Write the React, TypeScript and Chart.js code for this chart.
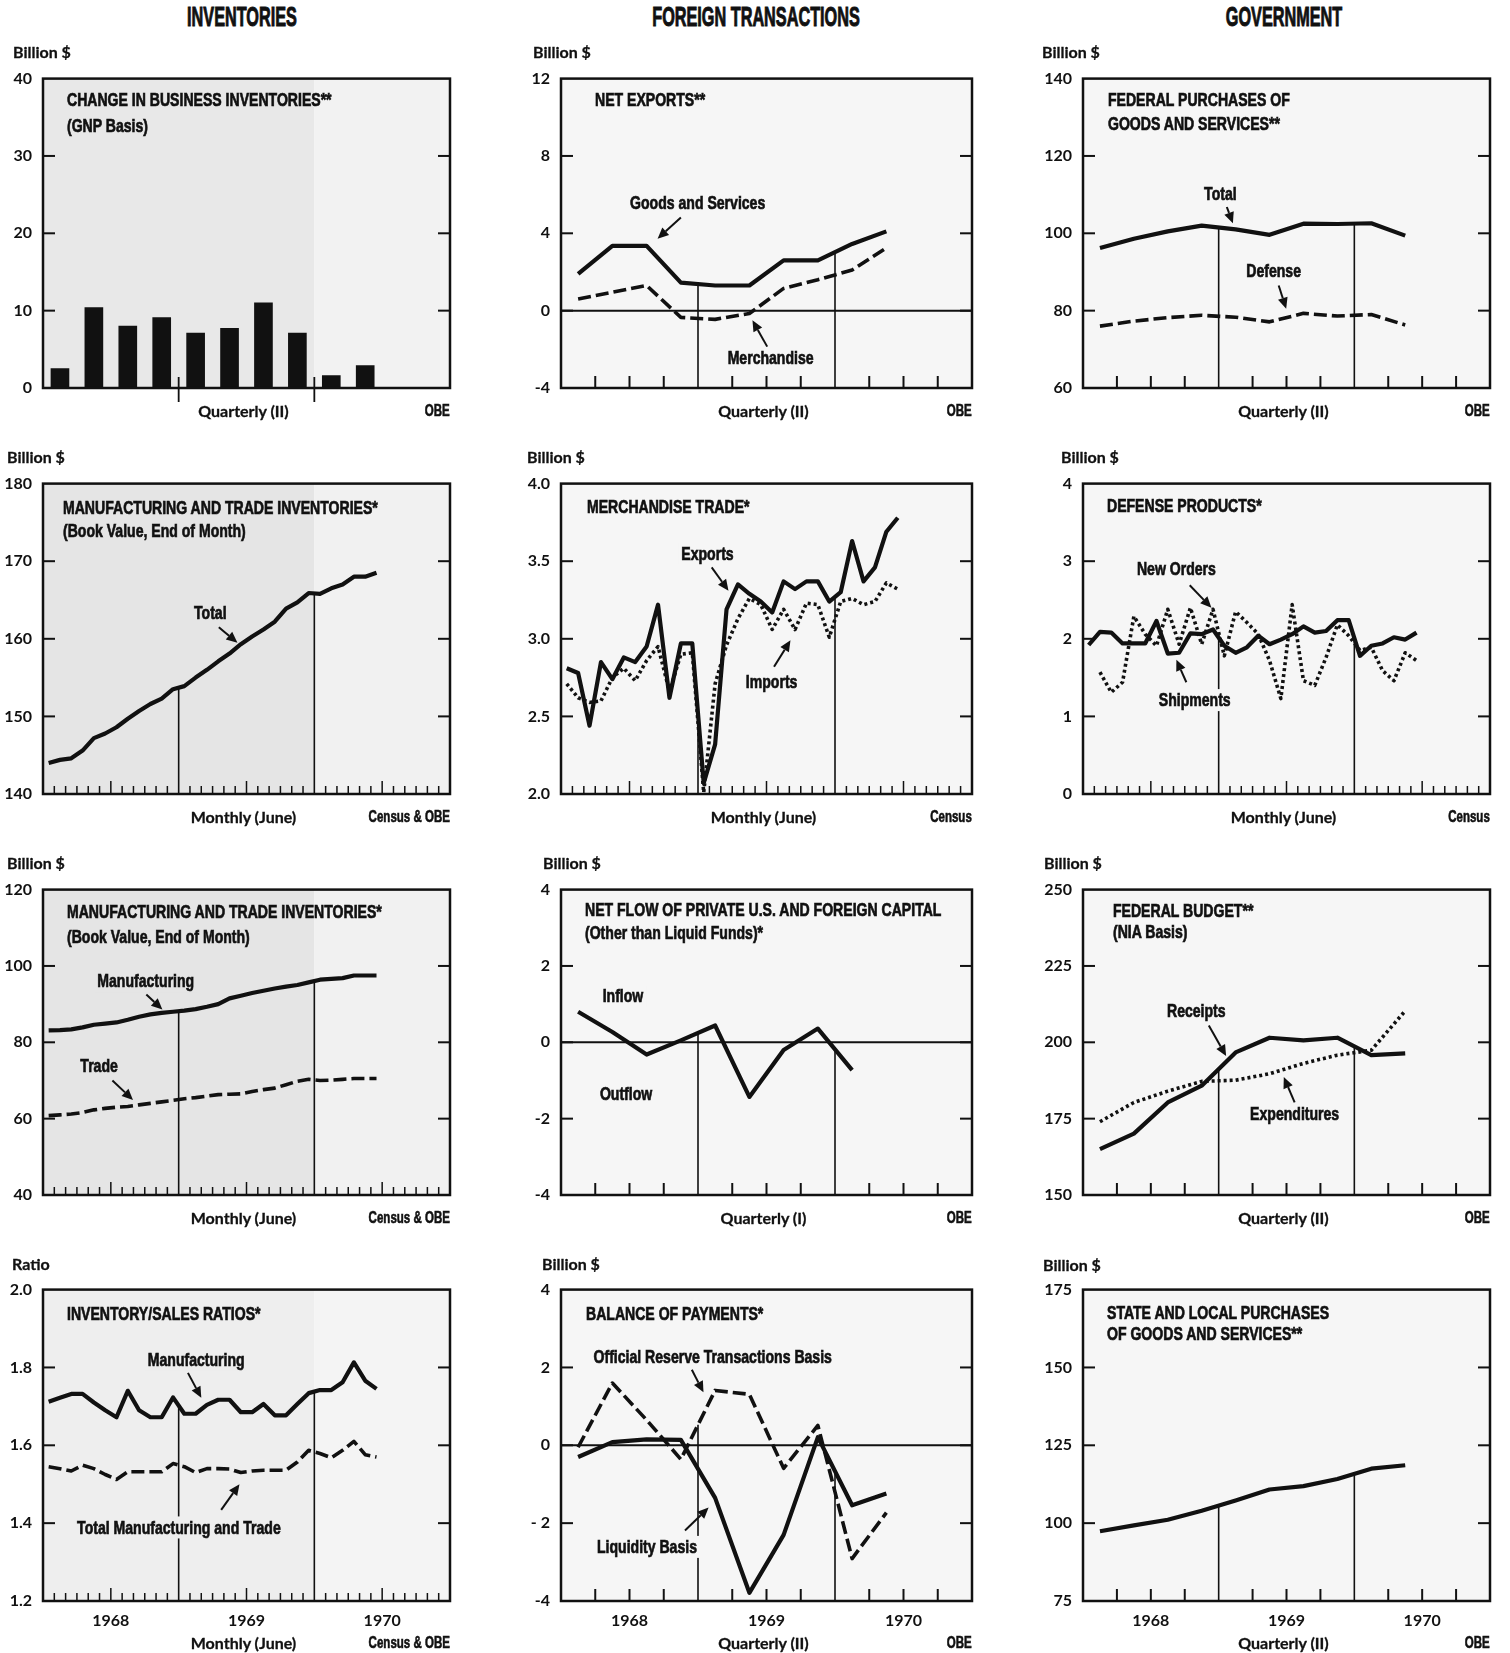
import React, { useEffect, useRef } from "react";
import { Chart, registerables } from "chart.js";

Chart.register(...registerables);

// ---------------- categories ----------------
const YEARS = ["1968", "1969", "1970"];
const QUARTERS = YEARS.flatMap((y) => ["I", "II", "III", "IV"].map((q) => `${y} ${q}`));
const MONTHS = YEARS.flatMap((y) =>
  ["Jan", "Feb", "Mar", "Apr", "May", "Jun", "Jul", "Aug", "Sep", "Oct", "Nov", "Dec"].map((m) => `${m} ${y}`)
);

// ---------------- data (quarterly: 1968 I .. 1970 II, monthly: Jan 1968 .. Jun 1970) ----------------
const INV_CHANGE = [2.5, 10.4, 8.0, 9.1, 7.1, 7.7, 11.0, 7.1, 1.6, 2.9];

const NX_GOODS_SERVICES = [1.9, 3.35, 3.35, 1.45, 1.3, 1.3, 2.6, 2.6, 3.45, 4.1];
const NX_MERCHANDISE = [0.6, 0.95, 1.3, -0.35, -0.45, -0.15, 1.15, 1.6, 2.1, 3.25];

const FED_TOTAL = [96.2, 98.6, 100.5, 102.0, 101.0, 99.6, 102.5, 102.4, 102.6, 99.4];
const FED_DEFENSE = [76.0, 77.3, 78.2, 78.8, 78.3, 77.1, 79.3, 78.6, 79.0, 76.3];

const MT_TOTAL = [
  144.0, 144.4, 144.6, 145.6, 147.2, 147.8, 148.6, 149.7, 150.7, 151.6, 152.3, 153.5, 153.9, 155.0, 156.0,
  157.1, 158.1, 159.3, 160.3, 161.2, 162.2, 163.9, 164.7, 165.9, 165.8, 166.5, 167.0, 168.0, 168.0, 168.5,
];

const EXPORTS = [
  2.81, 2.78, 2.44, 2.85, 2.74, 2.88, 2.85, 2.95, 3.22, 2.62, 2.97, 2.97, 2.07, 2.32, 3.19, 3.35, 3.29, 3.24,
  3.17, 3.37, 3.32, 3.37, 3.37, 3.24, 3.3, 3.63, 3.37, 3.46, 3.69, 3.78,
];
const IMPORTS = [
  2.71, 2.62, 2.59, 2.6, 2.75, 2.81, 2.73, 2.86, 2.95, 2.66, 2.9, 2.91, 2.01, 2.71, 2.96, 3.13, 3.26, 3.22,
  3.06, 3.19, 3.06, 3.23, 3.22, 3.01, 3.24, 3.26, 3.22, 3.24, 3.36, 3.32,
];

const DEF_SHIPMENTS = [
  1.92, 2.09, 2.08, 1.94, 1.94, 1.94, 2.23, 1.81, 1.82, 2.07, 2.06, 2.12, 1.91, 1.82, 1.89, 2.04, 1.93, 1.99,
  2.06, 2.16, 2.08, 2.1, 2.24, 2.24, 1.78, 1.91, 1.94, 2.02, 1.99, 2.08,
];
const DEF_NEW_ORDERS = [
  null, 1.57, 1.31, 1.44, 2.29, 2.06, 1.91, 2.38, 1.93, 2.4, 1.93, 2.38, 1.78, 2.35, 2.21, 2.06, 1.72, 1.23,
  2.44, 1.46, 1.4, 1.76, 2.18, 2.04, 1.85, 1.89, 1.59, 1.46, 1.82, 1.72,
];

const MT_MFG = [
  83.1, 83.2, 83.4, 83.9, 84.6, 84.9, 85.2, 85.9, 86.7, 87.3, 87.7, 88.0, 88.3, 88.7, 89.3, 90.0, 91.5, 92.2,
  92.9, 93.5, 94.1, 94.6, 95.0, 95.7, 96.4, 96.6, 96.8, 97.5, 97.5, 97.5,
];
const MT_TRADE = [
  60.8, 61.0, 61.2, 61.6, 62.3, 62.7, 63.0, 63.2, 63.6, 64.0, 64.4, 64.8, 65.2, 65.5, 65.9, 66.3, 66.4, 66.5,
  67.1, 67.6, 68.0, 68.9, 69.8, 70.3, 70.0, 70.1, 70.3, 70.5, 70.5, 70.5,
];

const CAPITAL_FLOW = [0.8, 0.27, -0.32, 0.05, 0.44, -1.43, -0.2, 0.36, -0.73];

const FB_RECEIPTS = [165.0, 170.1, 180.3, 185.8, 196.7, 201.5, 200.6, 201.5, 195.8, 196.4];
const FB_EXPENDITURES = [174.0, 180.3, 184.0, 187.2, 187.6, 189.7, 193.1, 195.8, 197.4, 210.3];

const RATIO_MFG = [
  1.712, 1.722, 1.732, 1.732, 1.71, 1.69, 1.672, 1.74, 1.69, 1.672, 1.672, 1.723, 1.681, 1.681, 1.704, 1.717,
  1.717, 1.685, 1.685, 1.706, 1.677, 1.677, 1.706, 1.734, 1.742, 1.742, 1.762, 1.813, 1.766, 1.745,
];
const RATIO_TOTAL = [
  1.545, 1.54, 1.534, 1.549, 1.54, 1.525, 1.512, 1.532, 1.532, 1.532, 1.532, 1.553, 1.545, 1.53, 1.54, 1.54,
  1.539, 1.53, 1.534, 1.536, 1.536, 1.536, 1.557, 1.587, 1.579, 1.568, 1.587, 1.61, 1.576, 1.57,
];

const BOP_LIQUIDITY = [-0.3, 0.08, 0.15, 0.14, -1.35, -3.79, -2.3, 0.21, -1.54, -1.24];
const BOP_OFFICIAL = [-0.05, 1.6, 0.65, -0.36, 1.41, 1.31, -0.59, 0.51, -2.91, -1.73];

const SL_PURCHASES = [97.4, 99.3, 101.1, 104.0, 107.3, 110.8, 111.9, 114.2, 117.5, 118.6];

// ---------------- tick labels ----------------
const Y_INV_CHANGE = ["0", "10", "20", "30", "40"];
const Y_NET_EXPORTS = ["-4", "0", "4", "8", "12"];
const Y_FED_PURCH = ["60", "80", "100", "120", "140"];
const Y_MT_TOTAL = ["140", "150", "160", "170", "180"];
const Y_MERCH = ["2.0", "2.5", "3.0", "3.5", "4.0"];
const Y_DEFENSE = ["0", "1", "2", "3", "4"];
const Y_MT_PARTS = ["40", "60", "80", "100", "120"];
const Y_CAPITAL = ["-4", "-2", "0", "2", "4"];
const Y_BUDGET = ["150", "175", "200", "225", "250"];
const Y_RATIO = ["1.2", "1.4", "1.6", "1.8", "2.0"];
const Y_BOP = ["-4", "- 2", "0", "2", "4"];
const Y_STATE_LOCAL = ["75", "100", "125", "150", "175"];

const HEADERS = ["INVENTORIES", "FOREIGN TRANSACTIONS", "GOVERNMENT"];

// ---------------- layout ----------------
const PAGE_W = 1510;
const PAGE_H = 1653;
const COL_X = [43, 561, 1083];
const COL_W = [407, 411, 407];
const ROW_Y = [72, 477, 883, 1283];
const ROW_H = [316, 317, 312, 318];
const HEADER_X = [242, 756, 1284];
const Y_AXIS_W = 50;
const PAD_T = 14;
const PAD_R = 10;
const X_AXIS_H = 32;

const INK = "#111";
const COND = '"Liberation Sans", Arial, sans-serif';
const GEO = 'Lato, "Open Sans", "DejaVu Sans", sans-serif';
const SX = 0.74;
const LABEL_FONT = `bold 19px ${COND}`;

type Style = "solid" | "dashed" | "dotted" | "bar";
type Series = { name: string; data: (number | null)[]; style: Style };
type Ann = { text: string; x: number; y: number; arrow?: [number, number, number, number] };
type Panel = {
  col: number;
  row: number;
  unit: string;
  unitDx: number;
  unitDy: number;
  title: string[];
  titleDx: number;
  titleDy: number[];
  freq: "Q" | "M";
  caption: string;
  source: string;
  yMin: number;
  yMax: number;
  yStep: number;
  yLabels: string[];
  series: Series[];
  zero?: boolean;
  shade: [number, number, string][];
  anns: Ann[];
};

const LIGHT = "#f6f6f6";

const PANELS: Panel[] = [
  {
    col: 0, row: 0, unit: "Billion $", unitDx: -30, unitDy: -20,
    title: ["CHANGE IN BUSINESS INVENTORIES**", "(GNP Basis)"], titleDx: 24, titleDy: [28, 54],
    freq: "Q", caption: "Quarterly (II)", source: "OBE",
    yMin: 0, yMax: 40, yStep: 10, yLabels: Y_INV_CHANGE,
    series: [{ name: "Change in business inventories", data: INV_CHANGE, style: "bar" }],
    shade: [[0, 8, "#e8e8e8"], [8, 12, "#f2f2f2"]],
    anns: [],
  },
  {
    col: 1, row: 0, unit: "Billion $", unitDx: -28, unitDy: -20,
    title: ["NET EXPORTS**"], titleDx: 34, titleDy: [28],
    freq: "Q", caption: "Quarterly (II)", source: "OBE",
    yMin: -4, yMax: 12, yStep: 4, yLabels: Y_NET_EXPORTS,
    series: [
      { name: "Goods and Services", data: NX_GOODS_SERVICES, style: "solid" },
      { name: "Merchandise", data: NX_MERCHANDISE, style: "dashed" },
    ],
    zero: true,
    shade: [[0, 12, LIGHT]],
    anns: [
      { text: "Goods and Services", x: 3.99, y: 5.58, arrow: [3.5, 4.82, 2.82, 3.72] },
      { text: "Merchandise", x: 6.12, y: -2.45, arrow: [6.02, -1.86, 5.59, -0.5] },
    ],
  },
  {
    col: 2, row: 0, unit: "Billion $", unitDx: -41, unitDy: -20,
    title: ["FEDERAL PURCHASES OF", "GOODS AND SERVICES**"], titleDx: 25, titleDy: [28, 52],
    freq: "Q", caption: "Quarterly (II)", source: "OBE",
    yMin: 60, yMax: 140, yStep: 20, yLabels: Y_FED_PURCH,
    series: [
      { name: "Total", data: FED_TOTAL, style: "solid" },
      { name: "Defense", data: FED_DEFENSE, style: "dashed" },
    ],
    shade: [[0, 12, LIGHT]],
    anns: [
      { text: "Total", x: 4.05, y: 110.3, arrow: [4.24, 106.8, 4.42, 102.6] },
      { text: "Defense", x: 5.62, y: 90.2, arrow: [5.77, 86.5, 5.99, 80.5] },
    ],
  },
  {
    col: 0, row: 1, unit: "Billion $", unitDx: -36, unitDy: -20,
    title: ["MANUFACTURING AND TRADE INVENTORIES*", "(Book Value, End of Month)"], titleDx: 20, titleDy: [31, 54],
    freq: "M", caption: "Monthly (June)", source: "Census & OBE",
    yMin: 140, yMax: 180, yStep: 10, yLabels: Y_MT_TOTAL,
    series: [{ name: "Total", data: MT_TOTAL, style: "solid" }],
    shade: [[0, 24, "#e5e5e5"], [24, 36, "#f1f1f1"]],
    anns: [{ text: "Total", x: 14.8, y: 163.4, arrow: [15.55, 161.5, 17.2, 159.5] }],
  },
  {
    col: 1, row: 1, unit: "Billion $", unitDx: -34, unitDy: -20,
    title: ["MERCHANDISE TRADE*"], titleDx: 26, titleDy: [30],
    freq: "M", caption: "Monthly (June)", source: "Census",
    yMin: 2, yMax: 4, yStep: 0.5, yLabels: Y_MERCH,
    series: [
      { name: "Exports", data: EXPORTS, style: "solid" },
      { name: "Imports", data: IMPORTS, style: "dotted" },
    ],
    shade: [[0, 36, LIGHT]],
    anns: [
      { text: "Exports", x: 12.83, y: 3.55, arrow: [13.2, 3.46, 14.67, 3.31] },
      { text: "Imports", x: 18.45, y: 2.72, arrow: [18.66, 2.82, 20.1, 2.99] },
    ],
  },
  {
    col: 2, row: 1, unit: "Billion $", unitDx: -22, unitDy: -20,
    title: ["DEFENSE PRODUCTS*"], titleDx: 24, titleDy: [29],
    freq: "M", caption: "Monthly (June)", source: "Census",
    yMin: 0, yMax: 4, yStep: 1, yLabels: Y_DEFENSE,
    series: [
      { name: "Shipments", data: DEF_SHIPMENTS, style: "solid" },
      { name: "New Orders", data: DEF_NEW_ORDERS, style: "dotted" },
    ],
    shade: [[0, 36, LIGHT]],
    anns: [
      { text: "New Orders", x: 8.26, y: 2.9, arrow: [9.44, 2.69, 11.36, 2.4] },
      { text: "Shipments", x: 9.88, y: 1.21, arrow: [9.14, 1.44, 8.26, 1.73] },
    ],
  },
  {
    col: 0, row: 2, unit: "Billion $", unitDx: -36, unitDy: -20,
    title: ["MANUFACTURING AND TRADE INVENTORIES*", "(Book Value, End of Month)"], titleDx: 24, titleDy: [29, 54],
    freq: "M", caption: "Monthly (June)", source: "Census & OBE",
    yMin: 40, yMax: 120, yStep: 20, yLabels: Y_MT_PARTS,
    series: [
      { name: "Manufacturing", data: MT_MFG, style: "solid" },
      { name: "Trade", data: MT_TRADE, style: "dashed" },
    ],
    shade: [[0, 24, "#e5e5e5"], [24, 36, "#f1f1f1"]],
    anns: [
      { text: "Manufacturing", x: 9.09, y: 96.0, arrow: [9.14, 92.5, 10.56, 88.6] },
      { text: "Trade", x: 4.96, y: 73.8, arrow: [6.14, 70.0, 7.96, 64.9] },
    ],
  },
  {
    col: 1, row: 2, unit: "Billion $", unitDx: -18, unitDy: -20,
    title: ["NET FLOW OF PRIVATE U.S. AND FOREIGN CAPITAL", "(Other than Liquid Funds)*"], titleDx: 24, titleDy: [27, 50],
    freq: "Q", caption: "Quarterly (I)", source: "OBE",
    yMin: -4, yMax: 4, yStep: 2, yLabels: Y_CAPITAL,
    series: [{ name: "Net flow", data: CAPITAL_FLOW, style: "solid" }],
    zero: true,
    shade: [[0, 12, LIGHT]],
    anns: [
      { text: "Inflow", x: 1.81, y: 1.21 },
      { text: "Outflow", x: 1.9, y: -1.36 },
    ],
  },
  {
    col: 2, row: 2, unit: "Billion $", unitDx: -39, unitDy: -20,
    title: ["FEDERAL BUDGET**", "(NIA Basis)"], titleDx: 30, titleDy: [28, 49],
    freq: "Q", caption: "Quarterly (II)", source: "OBE",
    yMin: 150, yMax: 250, yStep: 25, yLabels: Y_BUDGET,
    series: [
      { name: "Receipts", data: FB_RECEIPTS, style: "solid" },
      { name: "Expenditures", data: FB_EXPENDITURES, style: "dotted" },
    ],
    shade: [[0, 12, LIGHT]],
    anns: [
      { text: "Receipts", x: 3.34, y: 210.3, arrow: [3.71, 205.5, 4.22, 195.5] },
      { text: "Expenditures", x: 6.24, y: 176.5, arrow: [6.24, 180.3, 5.92, 188.6] },
    ],
  },
  {
    col: 0, row: 3, unit: "Ratio", unitDx: -31, unitDy: -19,
    title: ["INVENTORY/SALES RATIOS*"], titleDx: 24, titleDy: [31],
    freq: "M", caption: "Monthly (June)", source: "Census & OBE",
    yMin: 1.2, yMax: 2.0, yStep: 0.2, yLabels: Y_RATIO,
    series: [
      { name: "Manufacturing", data: RATIO_MFG, style: "solid" },
      { name: "Total Manufacturing and Trade", data: RATIO_TOTAL, style: "dashed" },
    ],
    shade: [[0, 24, "#eeeeee"], [24, 36, "#f4f4f4"]],
    anns: [
      { text: "Manufacturing", x: 13.55, y: 1.821, arrow: [12.82, 1.786, 14.0, 1.722] },
      { text: "Total Manufacturing and Trade", x: 12.02, y: 1.389, arrow: [15.76, 1.434, 17.38, 1.5] },
    ],
  },
  {
    col: 1, row: 3, unit: "Billion $", unitDx: -19, unitDy: -19,
    title: ["BALANCE OF PAYMENTS*"], titleDx: 25, titleDy: [31],
    freq: "Q", caption: "Quarterly (II)", source: "OBE",
    yMin: -4, yMax: 4, yStep: 2, yLabels: Y_BOP,
    series: [
      { name: "Liquidity Basis", data: BOP_LIQUIDITY, style: "solid" },
      { name: "Official Reserve Transactions Basis", data: BOP_OFFICIAL, style: "dashed" },
    ],
    zero: true,
    shade: [[0, 12, LIGHT]],
    anns: [
      { text: "Official Reserve Transactions Basis", x: 4.43, y: 2.27, arrow: [3.82, 1.94, 4.16, 1.36] },
      { text: "Liquidity Basis", x: 2.51, y: -2.61, arrow: [3.62, -2.19, 4.31, -1.6] },
    ],
  },
  {
    col: 2, row: 3, unit: "Billion $", unitDx: -40, unitDy: -18,
    title: ["STATE AND LOCAL PURCHASES", "OF GOODS AND SERVICES**"], titleDx: 24, titleDy: [30, 51],
    freq: "Q", caption: "Quarterly (II)", source: "OBE",
    yMin: 75, yMax: 175, yStep: 25, yLabels: Y_STATE_LOCAL,
    series: [{ name: "State and local purchases", data: SL_PURCHASES, style: "solid" }],
    shade: [[0, 12, LIGHT]],
    anns: [],
  },
];

// ---------------- drawing helpers ----------------
function seg(ctx: CanvasRenderingContext2D, x1: number, y1: number, x2: number, y2: number, w: number) {
  ctx.lineWidth = w;
  ctx.beginPath();
  ctx.moveTo(x1, y1);
  ctx.lineTo(x2, y2);
  ctx.stroke();
}

function arrow(ctx: CanvasRenderingContext2D, x1: number, y1: number, x2: number, y2: number) {
  const ang = Math.atan2(y2 - y1, x2 - x1);
  const L = 11;
  const H = 5;
  const bx = x2 - L * Math.cos(ang);
  const by = y2 - L * Math.sin(ang);
  seg(ctx, x1, y1, bx, by, 2);
  ctx.beginPath();
  ctx.moveTo(x2, y2);
  ctx.lineTo(bx + H * Math.sin(ang), by - H * Math.cos(ang));
  ctx.lineTo(bx - H * Math.sin(ang), by + H * Math.cos(ang));
  ctx.closePath();
  ctx.fill();
}

function makeDeco(p: Panel, N: number) {
  const isBar = p.series[0].style === "bar";
  const bgAt = (v: number) => {
    for (const [f, t, c] of p.shade) if (v >= f && v <= t) return c;
    return "#fff";
  };
  return {
    id: "deco",
    beforeDatasetsDraw(chart: any) {
      const { ctx, chartArea: a, scales } = chart;
      const X = scales.x;
      const Y = scales.y;
      ctx.save();
      for (const [f, t, c] of p.shade) {
        const x0 = X.getPixelForValue(f);
        const x1 = X.getPixelForValue(t);
        ctx.fillStyle = c;
        ctx.fillRect(x0, a.top, x1 - x0, a.bottom - a.top);
      }
      ctx.strokeStyle = INK;
      ctx.fillStyle = INK;
      ctx.lineCap = "butt";
      if (p.zero) {
        const yz = Y.getPixelForValue(0);
        seg(ctx, a.left, yz, a.right, yz, 2);
      }
      for (const b of [N / 3, (2 * N) / 3]) {
        const xb = X.getPixelForValue(b);
        if (isBar) {
          seg(ctx, xb, a.bottom - 11, xb, a.bottom + 14, 1.8);
        } else {
          const vals = p.series
            .map((s) => {
              const l = s.data[b - 1];
              const r = s.data[b];
              return l == null || r == null ? null : (l + r) / 2;
            })
            .filter((v) => v != null) as number[];
          if (vals.length) seg(ctx, xb, a.bottom, xb, Y.getPixelForValue(Math.max(...vals)), 1.6);
        }
      }
      ctx.font = LABEL_FONT;
      ctx.textAlign = "center";
      ctx.textBaseline = "middle";
      for (const an of p.anns) {
        const lx = X.getPixelForValue(an.x);
        const ly = Y.getPixelForValue(an.y);
        const w = ctx.measureText(an.text).width * SX;
        ctx.fillStyle = bgAt(an.x);
        ctx.fillRect(lx - w / 2 - 3, ly - 11, w + 6, 22);
        ctx.fillStyle = INK;
        ctx.strokeStyle = INK;
        ctx.save();
        ctx.translate(lx, ly);
        ctx.scale(SX, 1);
        ctx.fillText(an.text, 0, 1);
        ctx.lineWidth = 0.7;
        ctx.strokeText(an.text, 0, 1);
        ctx.restore();
        if (an.arrow) {
          const [ax1, ay1, ax2, ay2] = an.arrow;
          arrow(ctx, X.getPixelForValue(ax1), Y.getPixelForValue(ay1), X.getPixelForValue(ax2), Y.getPixelForValue(ay2));
        }
      }
      ctx.restore();
    },
    afterDatasetsDraw(chart: any) {
      const { ctx, chartArea: a, scales } = chart;
      const X = scales.x;
      const Y = scales.y;
      ctx.save();
      ctx.strokeStyle = INK;
      ctx.lineCap = "butt";
      ctx.lineWidth = 2.5;
      ctx.strokeRect(a.left, a.top, a.right - a.left, a.bottom - a.top);
      for (let k = 1; k < p.yLabels.length - 1; k++) {
        const yy = Y.getPixelForValue(p.yMin + k * p.yStep);
        seg(ctx, a.left, yy, a.left + 12, yy, 2);
        seg(ctx, a.right - 12, yy, a.right, yy, 2);
      }
      if (!isBar) {
        for (let k = 1; k < N; k++) {
          if (k === N / 3 || k === (2 * N) / 3) continue;
          const xk = X.getPixelForValue(k);
          if (p.freq === "M") seg(ctx, xk, a.bottom, xk, a.bottom - (k % 12 === 6 ? 13 : 8), 1.5);
          else seg(ctx, xk, a.bottom, xk, a.bottom - 12, 2);
        }
      }
      ctx.restore();
    },
  };
}

// ---------------- components ----------------
type TxtProps = {
  x: number;
  y: number;
  text: string;
  align?: "left" | "center" | "right";
  family: string;
  size: number;
  sx?: number;
  lh?: number;
  stroke?: number;
};

function Txt({ x, y, text, align = "left", family, size, sx = 1, lh = 24, stroke = 0 }: TxtProps) {
  const style: React.CSSProperties = {
    position: "absolute",
    top: y - lh / 2,
    height: lh,
    lineHeight: `${lh}px`,
    fontFamily: family,
    fontSize: size,
    fontWeight: 700,
    whiteSpace: "pre",
    color: INK,
    WebkitTextStroke: stroke ? `${stroke}px ${INK}` : undefined,
  };
  if (align === "left") {
    style.left = x;
    style.transformOrigin = "left center";
    style.transform = `scaleX(${sx})`;
  } else if (align === "right") {
    style.right = PAGE_W - x;
    style.transformOrigin = "right center";
    style.transform = `scaleX(${sx})`;
  } else {
    style.left = x;
    style.transformOrigin = "left center";
    style.transform = `scaleX(${sx}) translateX(-50%)`;
  }
  return <div style={style}>{text}</div>;
}

function PanelChart({ p }: { p: Panel }) {
  const ref = useRef<HTMLCanvasElement>(null);
  const px = COL_X[p.col];
  const py = ROW_Y[p.row];
  const pw = COL_W[p.col];
  const ph = ROW_H[p.row];
  const cw = Y_AXIS_W + pw + PAD_R;
  const chh = PAD_T + ph + X_AXIS_H;

  useEffect(() => {
    const cats = p.freq === "M" ? MONTHS : QUARTERS;
    const N = cats.length;
    const isBar = p.series[0].style === "bar";
    const tickFont = { family: GEO, size: 16, weight: "bold" as const };
    const datasets = p.series.map((s) => ({
      type: s.style === "bar" ? "bar" : "line",
      label: s.name,
      data: s.data
        .map((v, i) => (v == null ? null : { x: i + 0.5, y: v, cat: cats[i] }))
        .filter((d) => d !== null),
      backgroundColor: INK,
      borderColor: INK,
      borderWidth: s.style === "bar" ? 0 : s.style === "solid" ? 4.2 : 3.6,
      borderDash: s.style === "dashed" ? [13, 5] : s.style === "dotted" ? [3, 3] : [],
      borderJoinStyle: "round",
      borderCapStyle: "butt",
      pointRadius: 0,
      tension: 0,
      fill: false,
      barThickness: 18,
    }));
    const chart = new Chart(ref.current as HTMLCanvasElement, {
      type: isBar ? "bar" : "line",
      data: { datasets } as any,
      options: {
        animation: false,
        responsive: false,
        maintainAspectRatio: false,
        events: [],
        layout: { padding: { top: PAD_T, right: PAD_R, left: 0, bottom: 0 } },
        plugins: { legend: { display: false }, tooltip: { enabled: false } },
        scales: {
          x: {
            type: "linear",
            min: 0,
            max: N,
            offset: false,
            grid: { display: false, drawTicks: false },
            border: { display: false },
            afterFit: (s: any) => {
              s.height = X_AXIS_H;
            },
            afterBuildTicks: (s: any) => {
              s.ticks = YEARS.map((_, k) => ({ value: ((k + 0.5) * N) / 3 }));
            },
            ticks: {
              display: p.row === 3,
              autoSkip: false,
              maxRotation: 0,
              padding: 10,
              color: INK,
              font: { family: GEO, size: 16, weight: "bold" },
              callback: (_v: any, i: number) => YEARS[i],
            },
          },
          y: {
            type: "linear",
            min: p.yMin,
            max: p.yMax,
            grid: { display: false, drawTicks: false },
            border: { display: false },
            afterFit: (s: any) => {
              s.width = Y_AXIS_W;
            },
            afterBuildTicks: (s: any) => {
              s.ticks = p.yLabels.map((_, k) => ({ value: p.yMin + k * p.yStep }));
            },
            ticks: {
              padding: 11,
              color: INK,
              font: tickFont,
              callback: (_v: any, i: number) => p.yLabels[i],
            },
          },
        },
      } as any,
      plugins: [makeDeco(p, N)],
    });
    return () => chart.destroy();
  }, []);

  const capY = py + ph + (p.row === 3 ? 42 : 23);
  return (
    <>
      <canvas
        ref={ref}
        width={cw}
        height={chh}
        style={{ position: "absolute", left: px - Y_AXIS_W, top: py - PAD_T, width: cw, height: chh }}
      />
      <Txt x={px + p.unitDx} y={py + p.unitDy} text={p.unit} family={GEO} size={16} stroke={0.3} />
      {p.title.map((t, k) => (
        <Txt key={k} x={px + p.titleDx} y={py + p.titleDy[k]} text={t} family={COND} size={19} sx={SX} stroke={0.7} />
      ))}
      <Txt x={px + pw / 2 - 3} y={capY} text={p.caption} align="center" family={GEO} size={16} stroke={0.3} />
      <Txt x={px + pw} y={capY} text={p.source} align="right" family={COND} size={16} sx={0.72} stroke={0.6} />
    </>
  );
}

export default function App() {
  return (
    <div
      style={{
        position: "absolute",
        left: 0,
        top: 0,
        width: PAGE_W,
        height: PAGE_H,
        background: "#fff",
        overflow: "hidden",
      }}
    >
      {HEADERS.map((h, i) => (
        <Txt key={h} x={HEADER_X[i]} y={17} text={h} align="center" family={COND} size={28} sx={0.58} lh={32} stroke={1} />
      ))}
      {PANELS.map((p, i) => (
        <PanelChart key={i} p={p} />
      ))}
    </div>
  );
}
